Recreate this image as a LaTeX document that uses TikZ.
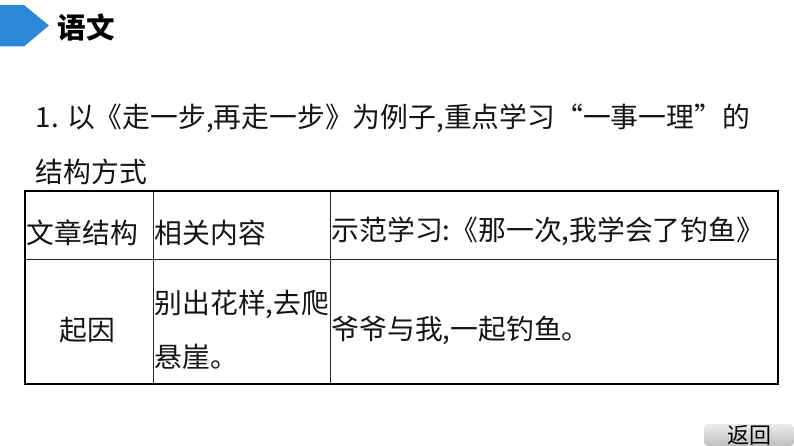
\documentclass[tikz,border=0pt]{standalone}
\usepackage{fontspec}
\setmainfont{Noto Sans CJK SC}
\usetikzlibrary{shadings}
\definecolor{arrowblue}{RGB}{43,137,216}
\tikzset{
  txt/.style={inner sep=0pt,anchor=west,font=\fontsize{27.8}{28}\selectfont,text=black!92},
  heading/.style={inner sep=0pt,anchor=west,font=\fontsize{28.5}{28}\selectfont\bfseries,text=black},
  gridline/.style={draw=black!85,line width=1pt},
  frameline/.style={draw=black,line width=1.8pt}
}
\begin{document}
\begin{tikzpicture}[x=1pt,y=-1pt]
\useasboundingbox (0,0) rectangle (794,446);
\fill[white] (0,0) rectangle (794,446);
\fill[arrowblue] (0,5) -- (24,5) -- (49,25.5) -- (24,46.5) -- (0,46.5) -- cycle;
\node[heading] (title) at (57.5,27) {语文};
\node[txt] (line1) at (35.5,118) {1. 以《走一步,再走一步》为例子,重点学习“一事一理”的};
\node[txt] (line2) at (35.5,172) {结构方式};
\draw[gridline] (153.5,191) -- (153.5,384);
\draw[gridline] (330.5,191) -- (330.5,384);
\draw[gridline] (25,259.5) -- (778,259.5);
\draw[frameline] (25,191) rectangle (778,384);
\node[txt] (h1) at (26.5,233) {文章结构};
\node[txt] (h2) at (154.5,233) {相关内容};
\node[txt] (h3) at (331.5,231) {示范学习:《那一次,我学会了钓鱼》};
\node[txt] (c1) at (59.5,330) {起因};
\node[txt] (c2a) at (154.5,304) {别出花样,去爬};
\node[txt] (c2b) at (154.5,357) {悬崖。};
\node[txt] (c3) at (331.5,330) {爷爷与我,一起钓鱼。};
\node[draw=none,rounded corners=3pt,top color=black!8,bottom color=black!25,minimum width=89pt,minimum height=22pt,inner sep=0pt] (back) at (749,435) {};
\node[inner sep=0pt,font=\fontsize{22}{22}\selectfont,text=black] (backtxt) at (749,435) {返回};
\end{tikzpicture}
\end{document}
